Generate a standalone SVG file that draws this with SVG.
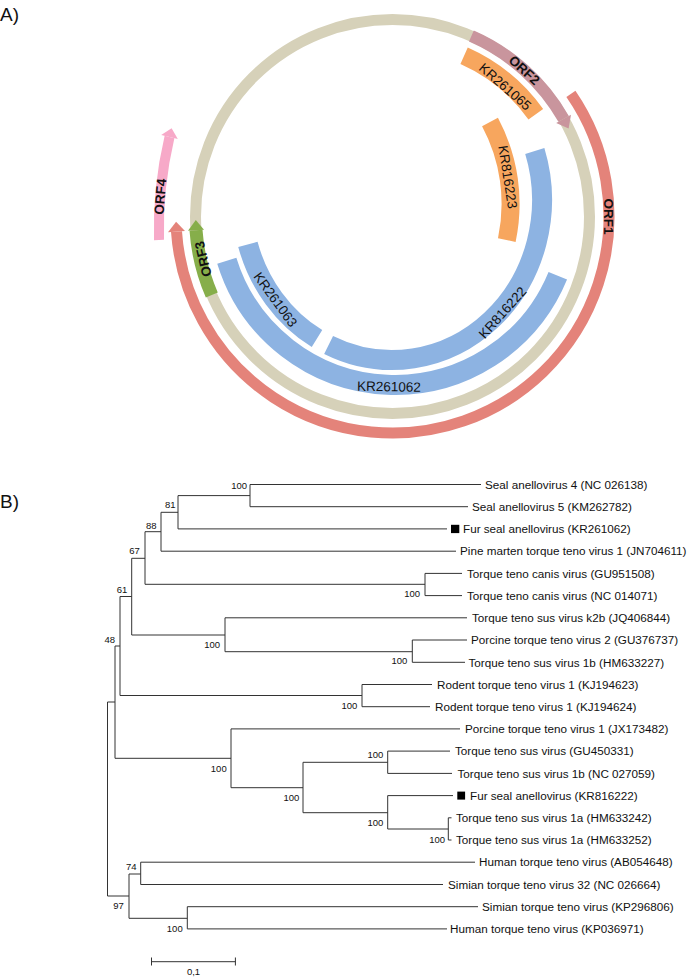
<svg xmlns="http://www.w3.org/2000/svg" width="689" height="977" viewBox="0 0 689 977">
<style>
text{font-family:"Liberation Sans",Arial,sans-serif;fill:#111}
.arc{fill:none;stroke-linecap:butt}
.orf{font-weight:bold;font-size:13.5px}
.seg{font-size:13.5px}
.leaf{font-size:11.7px}
.bs{font-size:9.5px;fill:#222}
.br{fill:none;stroke:#333;stroke-width:1}
</style>
<rect width="689" height="977" fill="#fff"/>
<text x="0" y="21" font-size="19">A)</text>
<text x="0" y="508" font-size="19">B)</text>

<g id="genome">
<circle cx="392.5" cy="216.5" r="197" class="arc" stroke="#d6d1b9" stroke-width="11"/>
</g>
<g id="ORF2">
<path class="arc" d="M471.4 36.0 A197 197 0 0 1 563.6 118.9" stroke="#c9959d" stroke-width="12"/>
<polygon points="571.0,114.7 556.2,123.1 568.6,128.4" fill="#c9959d"/>
<text class="orf" transform="translate(524.3,70.1) rotate(42)" text-anchor="middle" dy="0.35em">ORF2</text>
</g>
<g id="ORF1">
<path class="arc" d="M570.9 93.9 A216.5 216.5 0 1 1 176.5 231.6" stroke="#e4837a" stroke-width="11"/>
<polygon points="168.0,232.2 185.0,231.0 176.1,221.8" fill="#e4837a"/>
<text class="orf" transform="translate(609,216.5) rotate(90)" text-anchor="middle" dy="0.35em">ORF1</text>
</g>
<g id="ORF3">
<path class="arc" d="M211.8 295.0 A197 197 0 0 1 196.0 230.3" stroke="#86ae4a" stroke-width="13"/>
<polygon points="188.0,230.8 204.0,229.7 195.8,219.9" fill="#86ae4a"/>
<text class="orf" transform="translate(203,259) rotate(-103)" text-anchor="middle" dy="0.35em">ORF3</text>
</g>
<g id="ORF4">
<path class="arc" d="M159 240 A400 400 0 0 1 169.5 137" stroke="#f7a9c8" stroke-width="10"/>
<polygon points="161.2,135.1 177.8,138.9 171.6,128.2" fill="#f7a9c8"/>
<text class="orf" transform="translate(160.1,196.7) rotate(-85.4)" text-anchor="middle" dy="0.35em">ORF4</text>
</g>
<g id="KR261065">
<path class="arc" d="M464.1 55.7 A176 176 0 0 1 535.8 114.3" stroke="#f7a65e" stroke-width="18"/>
<text class="seg" transform="translate(505.3,86.7) rotate(41)" text-anchor="middle" dy="0.35em">KR261065</text>
</g>
<g id="KR816223">
<path class="arc" d="M490 122 A173.6 173.6 0 0 1 506.8 240.1" stroke="#f7a65e" stroke-width="18"/>
<text class="seg" transform="translate(507.9,176.9) rotate(81)" text-anchor="middle" dy="0.35em">KR816223</text>
</g>
<g id="KR816222">
<path class="arc" d="M534.8 151 A150 160 0 0 1 328.6 345.0" stroke="#8db3e2" stroke-width="20"/>
<text class="seg" transform="translate(502.5,312.5) rotate(-48)" text-anchor="middle" dy="0.35em">KR816222</text>
</g>
<g id="KR261063">
<path class="arc" d="M317 338.6 A150 160 0 0 1 247.9 244.4" stroke="#8db3e2" stroke-width="20"/>
<text class="seg" transform="translate(275.5,299.5) rotate(54)" text-anchor="middle" dy="0.35em">KR261063</text>
</g>
<g id="KR261062">
<path class="arc" d="M557.8 275.8 A176 176 0 0 1 226.8 260.7" stroke="#8db3e2" stroke-width="20"/>
<text class="seg" transform="translate(389,386.5) rotate(1)" text-anchor="middle" dy="0.35em">KR261062</text>
</g>

<g id="connectors" class="br">
<path d="M107.5 702V896 M107.5 702H115 M115 646V758.3 M107.5 896H129
M115 646H120 M120 596.5V695.5 M120 695.5H362 M362 684.5V706.7 M362 684.5H432 M362 706.7H430
M120 596.5H131.7 M131.7 558.3V635 M131.7 635H225 M225 617.8V651.7 M225 617.8H467 M225 651.7H412.3
M412.3 640V662.3 M412.3 640H467 M412.3 662.3H465
M131.7 558.3H145 M145 531.7V584.3 M145 584.3H425 M425 573.4V595.6 M425 573.4H462 M425 595.6H462
M145 531.7H161 M161 512.3V551.2 M161 551.2H456 M161 512.3H178 M178 495.6V528.9 M178 528.9H447
M178 495.6H250 M250 484.5V506.7 M250 484.5H481 M250 506.7H468
M115 758.3H231 M231 728.9V787.7 M231 728.9H460 M231 787.7H303 M303 762.3V812.7
M303 762.3H387.7 M387.7 751.1V773.4 M387.7 751.1H450 M387.7 773.4H452
M303 812.7H387.7 M387.7 795.6V829 M387.7 795.6H453 M387.7 829H448.3 M448.3 817.8V840 M448.3 817.8H451.5 M448.3 840H451.5
M129 874V918.3 M129 874H140.7 M140.7 862.2V884.5 M140.7 862.2H475 M140.7 884.5H443
M129 918.3H187.3 M187.3 906.7V928.9 M187.3 906.7H478 M187.3 928.9H447
M151.5 961.7H235.4 M151.5 957.5V965.5 M235.4 957.5V965.5"/>
</g>

<g id="leaves" class="leaf">
<text x="485" y="488.7">Seal anellovirus 4 (NC 026138)</text>
<text x="472" y="510.9">Seal anellovirus 5 (KM262782)</text>
<rect x="451" y="524.8" width="8.3" height="8.3" fill="#000"/>
<text x="463" y="533.1">Fur seal anellovirus (KR261062)</text>
<text x="460" y="555.4">Pine marten torque teno virus 1 (JN704611)</text>
<text x="467" y="577.6">Torque teno canis virus (GU951508)</text>
<text x="467" y="599.8">Torque teno canis virus (NC 014071)</text>
<text x="472" y="622">Torque teno sus virus k2b (JQ406844)</text>
<text x="471" y="644.2">Porcine torque teno virus 2 (GU376737)</text>
<text x="468.5" y="666.5">Torque teno sus virus 1b (HM633227)</text>
<text x="437" y="688.7">Rodent torque teno virus 1 (KJ194623)</text>
<text x="435" y="710.9">Rodent torque teno virus 1 (KJ194624)</text>
<text x="465" y="733.1">Porcine torque teno virus 1 (JX173482)</text>
<text x="455" y="755.3">Torque teno sus virus (GU450331)</text>
<text x="457.5" y="777.6">Torque teno sus virus 1b (NC 027059)</text>
<rect x="457.3" y="791.6" width="7.8" height="8" fill="#000"/>
<text x="470" y="799.8">Fur seal anellovirus (KR816222)</text>
<text x="456" y="822">Torque teno sus virus 1a (HM633242)</text>
<text x="456" y="844.2">Torque teno sus virus 1a (HM633252)</text>
<text x="479" y="866.4">Human torque teno virus (AB054648)</text>
<text x="448" y="888.7">Simian torque teno virus 32 (NC 026664)</text>
<text x="482" y="910.9">Simian torque teno virus (KP296806)</text>
<text x="450" y="933.1">Human torque teno virus (KP036971)</text>
</g>

<g id="bootstrap" class="bs">
<text x="247" y="489" text-anchor="end">100</text>
<text x="165" y="508">81</text>
<text x="146" y="528.5">88</text>
<text x="129.3" y="554">67</text>
<text x="116.7" y="592.5">61</text>
<text x="115" y="642.5" text-anchor="end">48</text>
<text x="420" y="597" text-anchor="end">100</text>
<text x="220" y="648" text-anchor="end">100</text>
<text x="407.3" y="664" text-anchor="end">100</text>
<text x="357.3" y="709" text-anchor="end">100</text>
<text x="226.7" y="771.5" text-anchor="end">100</text>
<text x="383.3" y="758" text-anchor="end">100</text>
<text x="299.3" y="800.5" text-anchor="end">100</text>
<text x="383.3" y="826" text-anchor="end">100</text>
<text x="445" y="843" text-anchor="end">100</text>
<text x="126" y="870">74</text>
<text x="113.3" y="909">97</text>
<text x="182.7" y="931.5" text-anchor="end">100</text>
<text x="193.5" y="975" text-anchor="middle">0,1</text>
</g>
</svg>
